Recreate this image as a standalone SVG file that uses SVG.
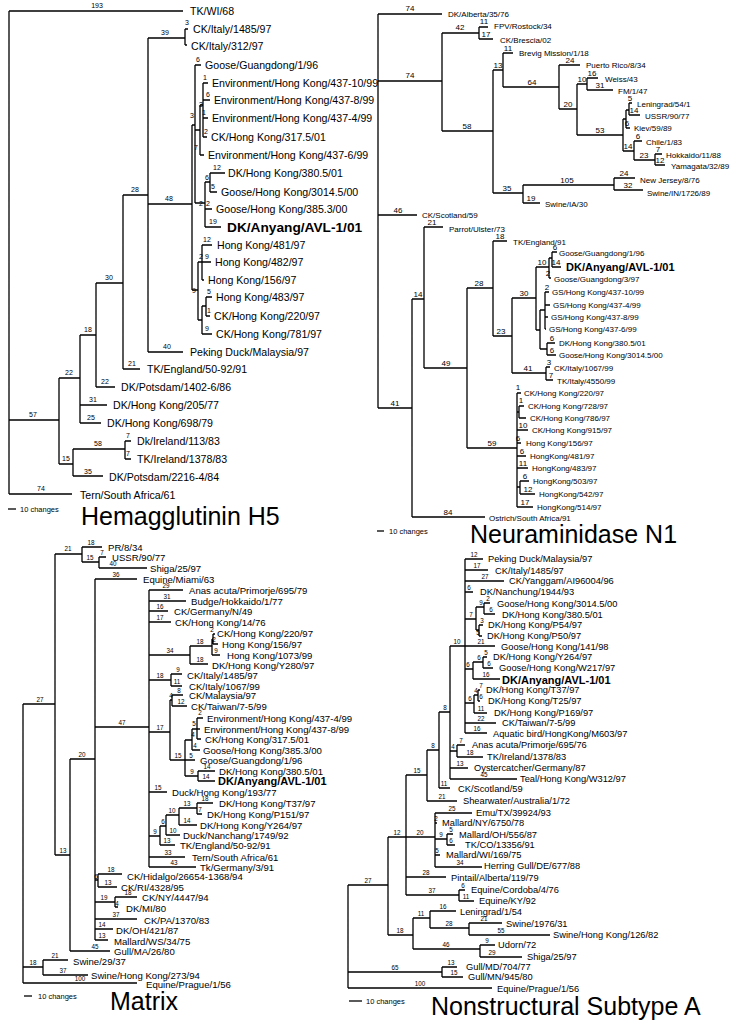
<svg xmlns="http://www.w3.org/2000/svg" width="732" height="1026" viewBox="0 0 732 1026">
<style>
.e{fill:none;stroke:#000;stroke-width:1.3}
text{font-family:"Liberation Sans",Arial,Helvetica,sans-serif;fill:#000}
.ha{font-size:10.6px;dominant-baseline:central}
.na{font-size:8px;dominant-baseline:central}
.mx{font-size:9.6px;dominant-baseline:central}
.ns{font-size:9.3px;dominant-baseline:central}
.b{font-weight:bold}
.l7{font-size:7px;text-anchor:middle}
.l8{font-size:8px;text-anchor:middle}
.l6{font-size:6.3px;text-anchor:middle}
.sc{font-size:7.5px;dominant-baseline:central}
.ti{font-size:25px}
</style>
<rect width="732" height="1026" fill="#fff"/>

<!-- ===================== Hemagglutinin H5 ===================== -->
<g id="ha">
<g id="ha-connectors" class="e">
<path d="M9 11V494M9 11H183M9 420H59M9 494H72
M59 378V464M59 378H80M59 464H73
M80 335V423M80 335H96M80 405H107M80 423H101
M96 283V387M96 283H123M96 387H115
M123 195V369M123 195H148M123 369H140
M148 38V352M148 38H185M148 204H192M148 352H183
M185 29V45M185 29H188M185 45H187
M192 125V290M192 125H195
M195 65V203M195 65H201M195 130H200M195 203H205
M200 105V155M200 105H203M200 155H204
M203 83V137M203 83H208M203 100H210M203 118H208M203 137H207
M205 182V227M205 182H210M205 209H212M205 227H221
M210 173V192M210 173H225M210 192H217
M192 290H198M198 262V320M198 262H202M198 320H202
M202 245V280M202 245H212M202 262H211M202 280H204
M202 306V334M202 306H206M202 334H212
M206 297V316M206 297H212M206 316H210
M73 449V476M73 449H125M73 476H103
M125 441V459M125 441H131M125 459H131"/>
</g>
<g id="ha-leaves" class="ha">
<text x="190" y="11">TK/WI/68</text>
<text x="193" y="29">CK/Italy/1485/97</text>
<text x="191" y="46">CK/Italy/312/97</text>
<text x="205" y="65">Goose/Guangdong/1/96</text>
<text x="212" y="83">Environment/Hong Kong/437-10/99</text>
<text x="214" y="100">Environment/Hong Kong/437-8/99</text>
<text x="212" y="118">Environment/Hong Kong/437-4/99</text>
<text x="211" y="137">CK/Hong Kong/317.5/01</text>
<text x="208" y="155">Environment/Hong Kong/437-6/99</text>
<text x="228" y="173">DK/Hong Kong/380.5/01</text>
<text x="221" y="192">Goose/Hong Kong/3014.5/00</text>
<text x="216" y="209">Goose/Hong Kong/385.3/00</text>
<text x="227" y="227" class="b" style="font-size:13.7px">DK/Anyang/AVL-1/01</text>
<text x="217" y="245">Hong Kong/481/97</text>
<text x="215" y="262">Hong Kong/482/97</text>
<text x="208" y="280">Hong Kong/156/97</text>
<text x="216" y="297">Hong Kong/483/97</text>
<text x="214" y="316">CK/Hong Kong/220/97</text>
<text x="216" y="334">CK/Hong Kong/781/97</text>
<text x="190" y="352">Peking Duck/Malaysia/97</text>
<text x="147" y="369">TK/England/50-92/91</text>
<text x="121" y="387">DK/Potsdam/1402-6/86</text>
<text x="113" y="405">DK/Hong Kong/205/77</text>
<text x="107" y="423">DK/Hong Kong/698/79</text>
<text x="137" y="441">Dk/Ireland/113/83</text>
<text x="137" y="459">TK/Ireland/1378/83</text>
<text x="109" y="477">DK/Potsdam/2216-4/84</text>
<text x="80" y="495">Tern/South Africa/61</text>
</g>
<g id="ha-branch-lengths" class="l7">
<text x="97" y="8">193</text><text x="165" y="35">39</text><text x="187" y="25">3</text>
<text x="198" y="62">6</text><text x="205" y="80">1</text><text x="208" y="97">6</text>
<text x="201" y="107">3</text><text x="204" y="115">1</text><text x="206" y="134">2</text>
<text x="196" y="150">7</text><text x="192" y="118">3</text><text x="217" y="170">12</text>
<text x="207" y="180">6</text><text x="213" y="189">5</text><text x="201" y="206">2</text>
<text x="208" y="206">2</text><text x="213" y="224">19</text><text x="169" y="201">48</text>
<text x="135" y="192">28</text><text x="207" y="242">12</text><text x="201" y="259">2</text>
<text x="207" y="259">9</text><text x="194" y="293">9</text><text x="209" y="294">5</text>
<text x="209" y="313">1</text><text x="207" y="331">9</text>
<text x="109" y="280">30</text><text x="88" y="332">18</text><text x="167" y="349">40</text>
<text x="132" y="366">21</text><text x="69" y="375">22</text><text x="105" y="384">22</text>
<text x="93" y="402">31</text><text x="91" y="420">25</text><text x="33" y="417">57</text>
<text x="98" y="446">58</text><text x="128" y="438">7</text><text x="128" y="456">7</text>
<text x="66" y="461">15</text><text x="88" y="474">35</text><text x="41" y="491">74</text>
</g>
<g id="ha-scale"><path class="e" d="M8 509H16"/><text class="sc" x="20" y="509">10 changes</text></g>
<text id="ha-title" class="ti" x="81" y="525">Hemagglutinin H5</text>
</g>

<!-- ===================== Neuraminidase N1 ===================== -->
<g id="na">
<g id="na-connectors" class="e">
<path d="M378 14V408M378 14H442M378 81H442M378 215H417M378 408H412
M442 33V131M442 33H479M442 131H493
M479 27V39M479 27H488M479 39H493
M493 70V193M493 70H503M493 193H523
M503 53V87M503 53H513M503 87H559
M559 65V109M559 65H580M559 109H577
M577 84V135M577 84H587M577 135H623
M587 78V90M587 78H598M587 90H613
M623 119V151M623 119H626M623 151H634
M626 110V128M626 110H629M626 128H630
M629 103V115M629 103H632M629 115H640
M634 141V160M634 141H642M634 160H655
M655 154V165M655 154H662M655 165H665
M523 185V203M523 185H614M523 203H540
M614 178V190M614 178H635M614 190H643
M412 299V517M412 299H424M412 517H485
M424 227V368M424 227H443M424 368H467
M467 288V448M467 288H493M467 448H517
M493 241V336M493 241H507M493 336H512
M512 298V373M512 298H536M512 373H546
M536 267V330M536 267H549M536 330H540
M549 258V278M549 258H552M549 278H551
M552 252V267M552 252H557M552 267H561
M540 310V349M540 310H545M540 349H547
M545 292V329M545 292H549M545 305H550M545 317H548M545 329H546
M547 343V355M547 343H555M547 355H556
M546 367V380M546 367H550M546 380H553
M517 393V507M517 393H521M517 412H519M519 406V418M519 406H524M519 418H526
M517 430H528M517 443H521M517 456H526M517 468H528
M517 487H520M520 481V494M520 481H529M520 494H535M517 507H533"/>
</g>
<g id="na-leaves" class="na">
<text x="448" y="14">DK/Alberta/35/76</text>
<text x="494" y="26">FPV/Rostock/34</text>
<text x="500" y="40">CK/Brescia/02</text>
<text x="519" y="53">Brevig Mission/1/18</text>
<text x="586" y="65">Puerto Rico/8/34</text>
<text x="605" y="79">Weiss/43</text>
<text x="618" y="91">FM/1/47</text>
<text x="637" y="104">Leningrad/54/1</text>
<text x="645" y="116">USSR/90/77</text>
<text x="634" y="128">Kiev/59/89</text>
<text x="646" y="142">Chile/1/83</text>
<text x="666" y="155">Hokkaido/11/88</text>
<text x="671" y="166">Yamagata/32/89</text>
<text x="640" y="180">New Jersey/8/76</text>
<text x="647" y="193">Swine/IN/1726/89</text>
<text x="545" y="204">Swine/IA/30</text>
<text x="422" y="215">CK/Scotland/59</text>
<text x="449" y="229">Parrot/Ulster/73</text>
<text x="513" y="242">TK/England/91</text>
<text x="559" y="253">Goose/Guangdong/1/96</text>
<text x="566" y="267" class="b" style="font-size:11px">DK/Anyang/AVL-1/01</text>
<text x="554" y="279">Goose/Guangdong/3/97</text>
<text x="552" y="292">GS/Hong Kong/437-10/99</text>
<text x="553" y="305">GS/Hong Kong/437-4/99</text>
<text x="551" y="317">GS/Hong Kong/437-8/99</text>
<text x="549" y="329">GS/Hong Kong/437-6/99</text>
<text x="559" y="343">DK/Hong Kong/380.5/01</text>
<text x="559" y="355">Goose/Hong Kong/3014.5/00</text>
<text x="554" y="368">CK/Italy/1067/99</text>
<text x="557" y="381">TK/Italy/4550/99</text>
<text x="524" y="393">CK/Hong Kong/220/97</text>
<text x="528" y="406">CK/Hong Kong/728/97</text>
<text x="530" y="418">CK/Hong Kong/786/97</text>
<text x="532" y="430">CK/Hong Kong/915/97</text>
<text x="526" y="443">Hong Kong/156/97</text>
<text x="530" y="456">HongKong/481/97</text>
<text x="532" y="468">HongKong/483/97</text>
<text x="533" y="481">HongKong/503/97</text>
<text x="539" y="494">HongKong/542/97</text>
<text x="537" y="507">HongKong/514/97</text>
<text x="489" y="518">Ostrich/South Africa/91</text>
</g>
<g id="na-branch-lengths" class="l8">
<text x="410" y="11">74</text><text x="410" y="78">74</text><text x="460" y="30">42</text>
<text x="484" y="24">11</text><text x="486" y="37">17</text><text x="508" y="51">11</text>
<text x="498" y="68">13</text><text x="532" y="85">64</text><text x="570" y="63">24</text>
<text x="568" y="107">20</text><text x="582" y="82">10</text><text x="592" y="76">16</text>
<text x="600" y="88">31</text><text x="600" y="133">53</text><text x="630" y="101">5</text>
<text x="634" y="113">14</text><text x="627" y="126">6</text><text x="628" y="149">14</text>
<text x="638" y="139">6</text><text x="644" y="158">23</text><text x="658" y="152">7</text>
<text x="660" y="163">12</text><text x="467" y="129">58</text><text x="507" y="191">35</text>
<text x="567" y="183">105</text><text x="624" y="176">24</text><text x="628" y="188">32</text>
<text x="531" y="201">19</text><text x="398" y="213">46</text><text x="395" y="406">41</text>
<text x="448" y="515">84</text><text x="418" y="297">14</text><text x="432" y="225">21</text>
<text x="446" y="366">49</text><text x="479" y="286">28</text><text x="500" y="239">18</text>
<text x="501" y="334">23</text><text x="524" y="296">30</text><text x="542" y="265">10</text>
<text x="555" y="250">6</text><text x="556" y="265">14</text><text x="548" y="276">2</text>
<text x="547" y="290">2</text><text x="552" y="341">6</text><text x="552" y="353">6</text>
<text x="528" y="371">41</text><text x="549" y="365">3</text><text x="551" y="378">7</text>
<text x="492" y="446">59</text><text x="518" y="390">1</text><text x="521" y="403">1</text>
<text x="523" y="428">10</text><text x="518" y="441">6</text><text x="522" y="454">6</text>
<text x="523" y="466">11</text><text x="525" y="479">6</text><text x="528" y="492">12</text>
<text x="525" y="505">17</text>
</g>
<g id="na-scale"><path class="e" d="M377 531H384"/><text class="sc" x="389" y="531">10 changes</text></g>
<text id="na-title" class="ti" x="470" y="543">Neuraminidase N1</text>
</g>

<!-- ===================== Matrix ===================== -->
<g id="mx">
<g id="mx-connectors" class="e">
<path d="M23 704V983M23 704H55M23 967H43M23 983H137
M43 960V975M43 960H68M43 975H88
M55 554V855M55 554H82M55 855H70
M82 547V562M82 547H102M82 562H99
M99 557V568M99 557H106M99 568H147
M70 759V951M70 759H95M70 951H110
M95 579V940M95 579H137M95 727H149M95 880H98M95 902H115M95 919H137M95 929H113M95 940H108
M98 874V887M98 874H122M98 887H117
M115 897V907M115 897H137M115 907H118
M149 590V867M149 590H183M149 601H186M149 611H168M149 622H171M149 655H190M149 680H171M149 732H170M149 792H167M149 836H160M149 857H185M149 867H196
M190 646V664M190 646H212M190 664H208
M212 639V655M212 639H213M213 634V644M213 634H215M213 644H218M212 655H220
M171 674V686M171 674H182M171 686H182
M170 700V760M170 700H172M170 760H185
M172 695V706M172 695H183M172 706H187
M185 740V776M185 740H192M185 760H195M185 776H198
M192 729V750M192 729H197M192 750H200
M197 718V739M197 718H203M197 729H200M197 739H201
M198 771V781M198 771H215M198 781H215
M160 826V845M160 826H166M160 845H175
M166 815V835M166 815H179M166 835H180
M179 808V825M179 808H197M179 825H197
M197 803V814M197 803H213M197 814H202"/>
</g>
<g id="mx-leaves" class="mx">
<text x="108" y="547">PR/8/34</text>
<text x="112" y="557">USSR/90/77</text>
<text x="150" y="568">Shiga/25/97</text>
<text x="143" y="579">Equine/Miami/63</text>
<text x="189" y="590">Anas acuta/Primorje/695/79</text>
<text x="191" y="601">Budge/Hokkaido/1/77</text>
<text x="174" y="611">CK/Germany/N/49</text>
<text x="175" y="622">CK/Hong Kong/14/76</text>
<text x="217" y="633">CK/Hong Kong/220/97</text>
<text x="222" y="644">Hong Kong/156/97</text>
<text x="227" y="655">Hong Kong/1073/99</text>
<text x="212" y="665">DK/Hong Kong/Y280/97</text>
<text x="187" y="675">CK/Italy/1485/97</text>
<text x="189" y="686">CK/Italy/1067/99</text>
<text x="189" y="695">CK/Malaysia/97</text>
<text x="191" y="706">CK/Taiwan/7-5/99</text>
<text x="207" y="718">Environment/Hong Kong/437-4/99</text>
<text x="204" y="729">Environment/Hong Kong/437-8/99</text>
<text x="205" y="739">CK/Hong Kong/317.5/01</text>
<text x="203" y="750">Goose/Hong Kong/385.3/00</text>
<text x="200" y="760">Goose/Guangdong/1/96</text>
<text x="219" y="771">DK/Hong Kong/380.5/01</text>
<text x="218" y="781" class="b" style="font-size:11px">DK/Anyang/AVL-1/01</text>
<text x="172" y="792">Duck/Hong Kong/193/77</text>
<text x="219" y="803">DK/Hong Kong/T37/97</text>
<text x="207" y="814">DK/Hong Kong/P151/97</text>
<text x="200" y="825">DK/Hong Kong/Y264/97</text>
<text x="183" y="835">Duck/Nanchang/1749/92</text>
<text x="180" y="845">TK/England/50-92/91</text>
<text x="192" y="857">Tern/South Africa/61</text>
<text x="200" y="867">Tk/Germany/3/91</text>
<text x="127" y="876">CK/Hidalgo/26654-1368/94</text>
<text x="121" y="887">CK/RI/4328/95</text>
<text x="142" y="897">CK/NY/4447/94</text>
<text x="126" y="908">DK/MI/80</text>
<text x="144" y="920">CK/PA/1370/83</text>
<text x="116" y="930">DK/OH/421/87</text>
<text x="114" y="941">Mallard/WS/34/75</text>
<text x="114" y="951">Gull/MA/26/80</text>
<text x="73" y="961">Swine/29/37</text>
<text x="91" y="975">Swine/Hong Kong/273/94</text>
<text x="146" y="984">Equine/Prague/1/56</text>
</g>
<g id="mx-branch-lengths" class="l6">
<text x="68" y="551">21</text><text x="91" y="545">18</text><text x="90" y="560">15</text>
<text x="102" y="555">7</text><text x="113" y="566">40</text><text x="116" y="577">36</text>
<text x="166" y="588">29</text><text x="167" y="599">31</text><text x="160" y="609">16</text>
<text x="160" y="620">17</text><text x="170" y="653">34</text><text x="200" y="644">18</text>
<text x="212" y="632">2</text><text x="214" y="642">2</text><text x="216" y="653">9</text>
<text x="200" y="662">18</text><text x="160" y="678">18</text><text x="178" y="672">9</text>
<text x="177" y="684">11</text><text x="40" y="702">27</text><text x="122" y="725">47</text>
<text x="160" y="730">17</text><text x="171" y="698">4</text><text x="179" y="693">8</text>
<text x="181" y="704">12</text><text x="200" y="715">2</text><text x="194" y="726">5</text>
<text x="193" y="737">4</text><text x="195" y="748">4</text><text x="191" y="758">5</text>
<text x="178" y="758">15</text><text x="207" y="769">14</text><text x="192" y="774">9</text>
<text x="206" y="779">14</text><text x="82" y="757">20</text><text x="158" y="790">15</text>
<text x="205" y="801">18</text><text x="187" y="806">13</text><text x="200" y="812">7</text>
<text x="172" y="813">10</text><text x="187" y="823">14</text><text x="163" y="824">6</text>
<text x="173" y="833">10</text><text x="155" y="834">9</text><text x="167" y="843">13</text>
<text x="168" y="855">33</text><text x="174" y="865">43</text><text x="63" y="853">13</text>
<text x="96" y="879">6</text><text x="111" y="872">18</text><text x="108" y="885">13</text>
<text x="104" y="900">19</text><text x="128" y="895">18</text><text x="117" y="906">4</text>
<text x="116" y="917">37</text><text x="102" y="927">14</text><text x="102" y="938">13</text>
<text x="95" y="949">45</text><text x="33" y="965">18</text><text x="55" y="958">21</text>
<text x="63" y="973">37</text><text x="80" y="981">100</text>
</g>
<g id="mx-scale"><path class="e" d="M24 996H32"/><text class="sc" x="38" y="996">10 changes</text></g>
<text id="mx-title" class="ti" x="110" y="1010">Matrix</text>
</g>

<!-- ===================== Nonstructural Subtype A ===================== -->
<g id="ns">
<g id="ns-connectors" class="e">
<path d="M348 885V988M348 885H388M348 972H442M348 988H492
M442 967V977M442 967H457M442 977H463
M388 837V935M388 837H406M388 935H413
M413 918V949M413 918H430M413 949H480
M430 911V928M430 911H456M430 928H469
M469 923V935M469 923H502M469 935H550
M480 945V957M480 945H495M480 957H522
M406 775V895M406 775H427M406 837H435M406 877H446M406 895H459
M459 890V901M459 890H465M459 901H474
M435 813V867M435 813H472M435 823H437M435 839H447M435 855H440M435 867H482
M447 834V845M447 834H453M447 845H455
M427 750V801M427 750H439M427 801H457
M439 712V788M439 712H450M439 788H450
M450 646V779M450 646H465M450 751H457M450 768H468M450 779H517
M457 745V757M457 745H465M457 757H483
M465 559V733M465 559H483M465 570H488M465 581H504M465 592H473M465 619H476M465 646H495M465 669H473M465 703H474M465 723H496M465 733H487
M476 607V630M476 607H484M476 630H479
M484 603V614M484 603H490M484 614H495
M479 625V636M479 625H483M479 636H482
M473 662V679M473 662H483M473 679H500
M483 657V668M483 657H487M483 668H493
M474 695V713M474 695H478M474 713H487
M478 690V701M478 690H480M478 701H480"/>
</g>
<g id="ns-leaves" class="ns">
<text x="488" y="559">Peking Duck/Malaysia/97</text>
<text x="495" y="571">CK/Italy/1485/97</text>
<text x="509" y="581">CK/Yanggam/AI96004/96</text>
<text x="480" y="592">DK/Nanchung/1944/93</text>
<text x="497" y="604">Goose/Hong Kong/3014.5/00</text>
<text x="502" y="615">DK/Hong Kong/380.5/01</text>
<text x="488" y="625">DK/Hong Kong/P54/97</text>
<text x="487" y="636">DK/Hong Kong/P50/97</text>
<text x="501" y="647">Goose/Hong Kong/141/98</text>
<text x="493" y="657">DK/Hong Kong/Y264/97</text>
<text x="499" y="668">Goose/Hong Kong/W217/97</text>
<text x="502" y="680" class="b" style="font-size:11px">DK/Anyang/AVL-1/01</text>
<text x="486" y="690">DK/Hong Kong/T37/97</text>
<text x="488" y="701">DK/Hong Kong/T25/97</text>
<text x="494" y="713">DK/Hong Kong/P169/97</text>
<text x="502" y="723">CK/Taiwan/7-5/99</text>
<text x="493" y="734">Aquatic bird/HongKong/M603/97</text>
<text x="472" y="745">Anas acuta/Primorje/695/76</text>
<text x="487" y="757">TK/Ireland/1378/83</text>
<text x="474" y="768">Oystercatcher/Germany/87</text>
<text x="520" y="779">Teal/Hong Kong/W312/97</text>
<text x="458" y="789">CK/Scotland/59</text>
<text x="463" y="801">Shearwater/Australia/1/72</text>
<text x="476" y="813">Emu/TX/39924/93</text>
<text x="442" y="823">Mallard/NY/6750/78</text>
<text x="459" y="835">Mallard/OH/556/87</text>
<text x="465" y="845">TK/CO/13356/91</text>
<text x="446" y="855">Mallard/WI/169/75</text>
<text x="484" y="866">Herring Gull/DE/677/88</text>
<text x="451" y="878">Pintail/Alberta/119/79</text>
<text x="471" y="890">Equine/Cordoba/4/76</text>
<text x="479" y="901">Equine/KY/92</text>
<text x="460" y="912">Leningrad/1/54</text>
<text x="506" y="924">Swine/1976/31</text>
<text x="553" y="935">Swine/Hong Kong/126/82</text>
<text x="498" y="945">Udorn/72</text>
<text x="527" y="957">Shiga/25/97</text>
<text x="466" y="967">Gull/MD/704/77</text>
<text x="468" y="977">Gull/MN/945/80</text>
<text x="497" y="989">Equine/Prague/1/56</text>
</g>
<g id="ns-branch-lengths" class="l6">
<text x="474" y="557">12</text><text x="477" y="568">17</text><text x="485" y="579">27</text>
<text x="469" y="590">6</text><text x="488" y="601">2</text><text x="481" y="605">9</text>
<text x="491" y="612">6</text><text x="471" y="617">7</text><text x="482" y="623">3</text>
<text x="478" y="635">5</text><text x="457" y="644">10</text><text x="481" y="644">21</text>
<text x="486" y="655">5</text><text x="479" y="660">6</text><text x="489" y="666">6</text>
<text x="468" y="667">6</text><text x="486" y="677">16</text><text x="481" y="688">7</text>
<text x="476" y="693">4</text><text x="481" y="699">6</text><text x="470" y="701">6</text>
<text x="481" y="711">11</text><text x="481" y="721">22</text><text x="477" y="731">16</text>
<text x="445" y="710">8</text><text x="461" y="743">7</text><text x="453" y="749">4</text>
<text x="470" y="755">18</text><text x="460" y="766">13</text><text x="484" y="777">45</text>
<text x="444" y="786">11</text><text x="433" y="748">8</text><text x="442" y="799">21</text>
<text x="417" y="773">15</text><text x="452" y="811">25</text><text x="436" y="821">2</text>
<text x="397" y="835">12</text><text x="420" y="835">20</text><text x="441" y="837">9</text>
<text x="451" y="832">5</text><text x="451" y="843">6</text><text x="437" y="853">5</text>
<text x="460" y="865">34</text><text x="426" y="875">28</text><text x="368" y="883">27</text>
<text x="463" y="888">6</text><text x="432" y="893">37</text><text x="466" y="899">11</text>
<text x="443" y="909">16</text><text x="421" y="916">11</text><text x="484" y="921">21</text>
<text x="449" y="926">28</text><text x="501" y="933">55</text><text x="400" y="933">18</text>
<text x="487" y="943">9</text><text x="446" y="947">46</text><text x="492" y="955">29</text>
<text x="451" y="965">13</text><text x="395" y="970">65</text><text x="454" y="975">15</text>
<text x="420" y="986">100</text>
</g>
<g id="ns-scale"><path class="e" d="M349 1001H362"/><text class="sc" x="366" y="1001">10 changes</text></g>
<text id="ns-title" class="ti" x="431" y="1015">Nonstructural Subtype A</text>
</g>
</svg>
